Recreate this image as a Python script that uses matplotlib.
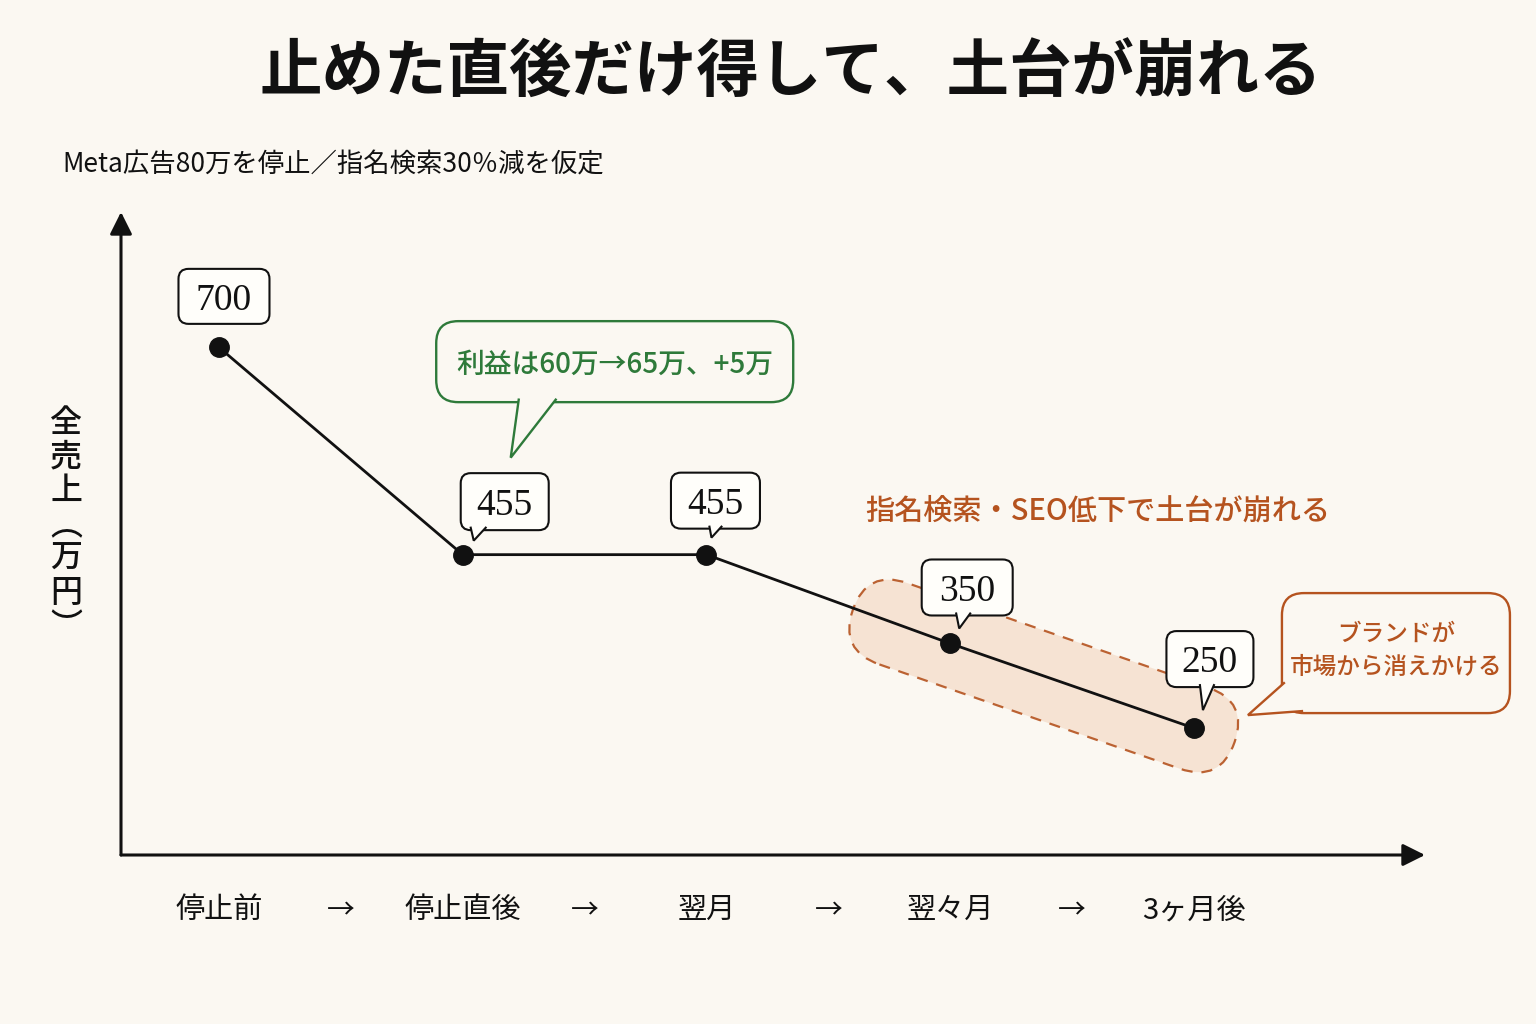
import numpy as np
import matplotlib
matplotlib.use("Agg")
import matplotlib.pyplot as plt
from matplotlib.patches import FancyBboxPatch, Polygon
from matplotlib.lines import Line2D
from matplotlib.transforms import Affine2D, ScaledTranslation

BG = "#FBF8F2"
BOX = "#FFFEFA"
INK = "#111111"
GREEN = "#2E7A3A"
ORANGE = "#B5531F"
PEACH = "#F6E1D0"

JP = ["Noto Sans CJK JP", "DejaVu Sans"]
NUM = ["Liberation Serif", "Noto Sans CJK JP"]

# data
stages = ["停止前", "停止直後", "翌月", "翌々月", "3ヶ月後"]
sales = [700, 455, 455, 350, 250]
title = "止めた直後だけ得して、土台が崩れる"
subtitle = "Meta広告80万を停止／指名検索30％減を仮定"
ylabel = "全売上(万円)"
profit_note = "利益は60万→65万、+5万"
decline_note = "指名検索・SEO低下で土台が崩れる"
brand_note = "ブランドが\n市場から消えかける"

plt.rcParams["font.family"] = JP

fig = plt.figure(figsize=(15.36, 10.24), dpi=100, facecolor=BG)
ax = fig.add_axes([121 / 1536, 169 / 1024, 1304 / 1536, 643 / 1024])
ax.patch.set_alpha(0)
x = np.arange(len(stages))
ax.set_xlim(-0.402, 4.948)
ax.set_ylim(100, 860)
ax.set_xticks([])
ax.set_yticks([])
for s in ax.spines.values():
    s.set_visible(False)

# axis arrows
arrow = dict(arrowstyle="-|>,head_length=0.9,head_width=0.45", color=INK, lw=2.2,
             shrinkA=0, shrinkB=0, mutation_scale=15)
ax.annotate("", xy=(1, 0), xytext=(0, 0), xycoords="axes fraction", arrowprops=arrow, annotation_clip=False)
ax.annotate("", xy=(0, 1), xytext=(0, 0), xycoords="axes fraction", arrowprops=arrow, annotation_clip=False)

ax.plot(x, sales, color=INK, lw=2, marker="o", ms=14, zorder=4, clip_on=False)

# stage labels with arrows between
xt = ax.get_xaxis_transform()
for i, s in enumerate(stages):
    ax.text(i, -0.086, s, transform=xt, ha="center", va="center", fontsize=21, color=INK)
    if i < len(stages) - 1:
        ax.text(i + 0.5, -0.086, "→", transform=xt, ha="center", va="center", fontsize=20, color=INK)


def anchor(i):
    # pixel offsets measured from a data point
    return ScaledTranslation(x[i], sales[i], ax.transData)


def callout(i, cx, cy, w, h, r, edge, face, lw, tail=None):
    tr = anchor(i)
    ax.add_patch(FancyBboxPatch((cx - w / 2, cy - h / 2), w, h,
                                boxstyle=f"round,pad=0,rounding_size={r}",
                                fc=face, ec=edge, lw=lw, transform=tr, zorder=6, clip_on=False))
    if tail:
        b1, tip, b2 = tail
        ax.add_patch(Polygon([b1, tip, b2], closed=True, fc=face, ec="none",
                             transform=tr, zorder=7, clip_on=False))
        ax.add_line(Line2D([b1[0], tip[0], b2[0]], [b1[1], tip[1], b2[1]], color=edge, lw=lw,
                           transform=tr, zorder=8, clip_on=False, solid_joinstyle="miter"))
    return tr


# value labels
label_boxes = [
    (5, 51, 91, 55, None),
    (42, 53, 88, 57, ((8, 27), (11, 14), (23, 27))),
    (9, 54, 89, 56, ((3, 28), (5, 17), (15, 28))),
    (17, 56, 91, 56, ((6, 30), (9, 15), (20, 30))),
    (16, 69, 87, 56, ((6, 43), (9, 18), (20, 43))),
]
for i, (cx, cy, w, h, tail) in enumerate(label_boxes):
    tr = callout(i, cx, cy, w, h, 10, INK, BOX, 1.5, tail)
    ax.text(cx, cy, str(sales[i]), transform=tr, ha="center", va="center_baseline",
            fontsize=27, family=NUM, color=INK, zorder=9)

# green profit callout
tr = callout(1, 152, 193, 357, 81, 22, GREEN, BG, 1.7,
             ((56, 155), (48, 97), (93, 155)))
ax.text(152, 193, profit_note, transform=tr, ha="center", va="center_baseline",
        fontsize=20, color=GREEN, weight="medium", zorder=9)

# dashed band around the last decline
fig.canvas.draw()
p3 = ax.transData.transform((x[3], sales[3]))
p4 = ax.transData.transform((x[4], sales[4]))
ang = np.arctan2(p4[1] - p3[1], p4[0] - p3[0])
seg = np.hypot(*(p4 - p3))
hw = 43
band = FancyBboxPatch((-60 - hw, -hw), seg + 60 + 2 * hw, 2 * hw,
                      boxstyle=f"round,pad=0,rounding_size={hw}",
                      fc=PEACH, ec=ORANGE, lw=1.6, ls=(0, (5, 4)), alpha=0.9,
                      transform=Affine2D().rotate(ang) + anchor(3), zorder=1, clip_on=False)
ax.add_patch(band)

fig.text(1098 / 1536, 1 - 511 / 1024, decline_note, ha="center", va="center",
         fontsize=21, color=ORANGE, weight="medium")

# brand callout
tr = callout(4, 202, 75, 228, 120, 22, ORANGE, BG, 1.7,
             ((90, 45), (54, 13), (108, 17)))
ax.text(202, 77, brand_note, transform=tr, ha="center", va="center",
        fontsize=17, color=ORANGE, weight="medium", linespacing=1.55, zorder=9)

# titles
fig.text(0.515, 1 - 73 / 1024, title, ha="center", va="center", fontsize=45,
         weight="bold", color=INK)
fig.text(62 / 1536, 1 - 165 / 1024, subtitle, ha="left", va="center", fontsize=19, color=INK)
fig.text(66 / 1536, 1 - 525 / 1024, "全\n売\n上\n︵\n万\n円\n︶", ha="center", va="center",
         fontsize=23, color=INK, linespacing=1.08, weight="medium")

fig.savefig("out.png", dpi=100, facecolor=BG)
